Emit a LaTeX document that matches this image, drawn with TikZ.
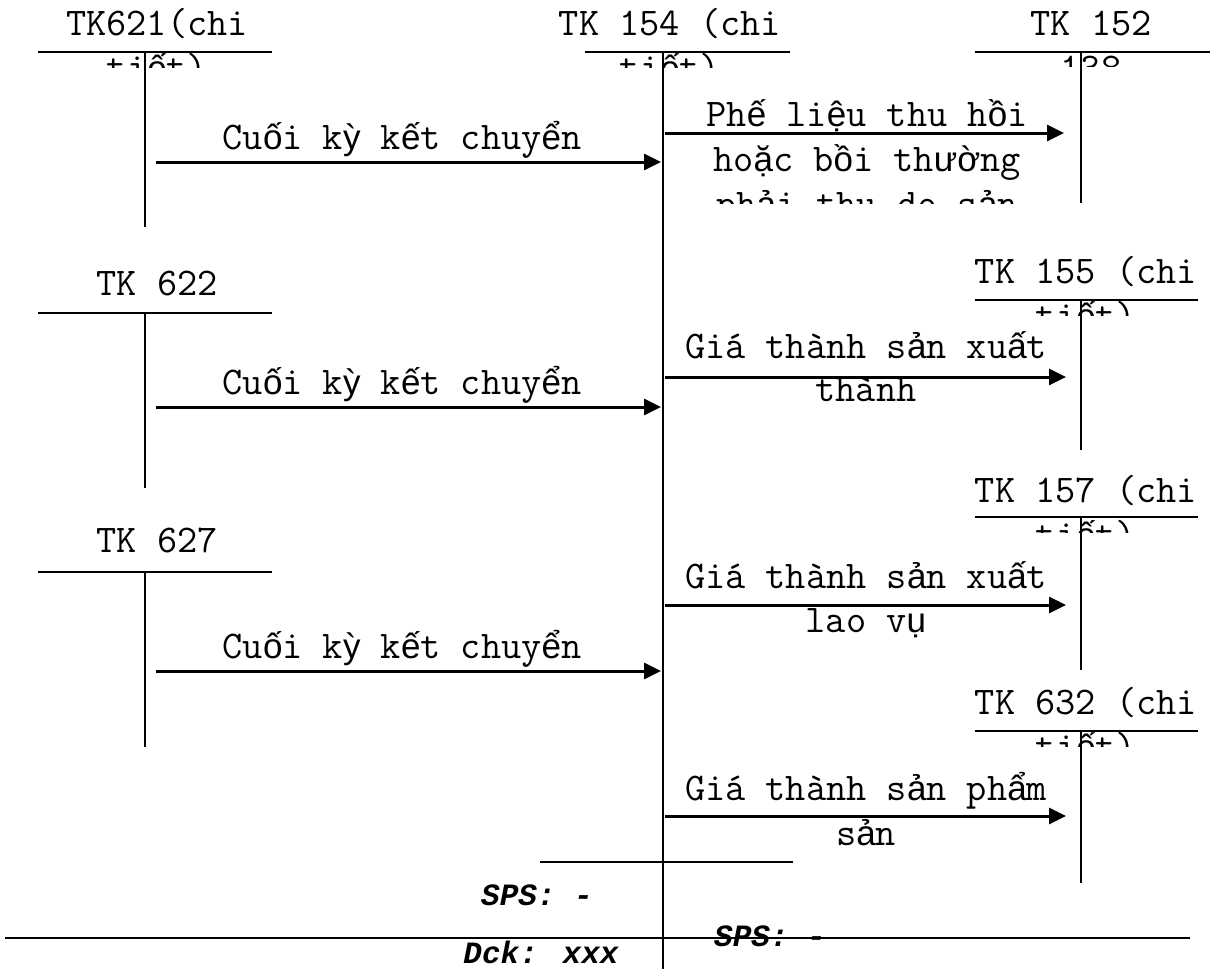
\documentclass[tikz,border=0pt]{standalone}
\usepackage{fontspec}
\newfontfamily\vnfont{Liberation Sans}
\newfontfamily\totfont{Liberation Mono}
\newcommand\vs[1]{{\fontsize{35}{45}\selectfont\vnfont #1}}
\usetikzlibrary{arrows.meta}
\begin{document}
\begin{tikzpicture}[x=1pt,y=-1pt,
  lbl/.style={anchor=base, inner sep=0pt, font=\fontsize{39.2}{45}\selectfont\ttfamily},
  cut/.style={anchor=base, inner sep=0pt, text depth=0pt, font=\fontsize{39.2}{45}\selectfont\ttfamily},
  tot/.style={anchor=base, inner sep=0pt, font=\fontsize{31}{40}\selectfont\totfont\bfseries\itshape},
  tline/.style={line width=2pt},
  flow/.style={line width=3pt, -{Triangle[length=17pt,width=16pt]}},
]
\useasboundingbox (0,0) rectangle (1213,969);

% ---------- Left T-accounts ----------
\node[lbl] (t621) at (157,35) {TK621(chi};
\begin{scope}\clip (38,52) rectangle (272,67);
\node[cut] (t621b) at (157,80) {ti\vs{ế}t)};
\end{scope}
\coordinate (h621l) at (38,52); \coordinate (h621r) at (272,52);
\coordinate (v621t) at (145,52); \coordinate (v621b) at (145,227);
\draw[tline] (h621l) -- (h621r);
\draw[tline] (v621t) -- (v621b);

\node[lbl] (t622) at (157,295) {TK 622};
\coordinate (h622l) at (38,313); \coordinate (h622r) at (272,313);
\coordinate (v622t) at (145,313); \coordinate (v622b) at (145,488);
\draw[tline] (h622l) -- (h622r);
\draw[tline] (v622t) -- (v622b);

\node[lbl] (t627) at (157,552) {TK 627};
\coordinate (h627l) at (38,572); \coordinate (h627r) at (272,572);
\coordinate (v627t) at (145,572); \coordinate (v627b) at (145,747);
\draw[tline] (h627l) -- (h627r);
\draw[tline] (v627t) -- (v627b);

% ---------- Central TK 154 ----------
\node[lbl] (t154) at (670,35) {TK 154 (chi};
\begin{scope}\clip (585,52) rectangle (790,67);
\node[cut] (t154b) at (670,80) {ti\vs{ế}t)};
\end{scope}
\coordinate (h154l) at (585,52); \coordinate (h154r) at (790,52);
\coordinate (v154t) at (663,52); \coordinate (v154b) at (663,969);
\draw[tline] (h154l) -- (h154r);
\draw[tline] (v154t) -- (v154b);

% ---------- Right T-accounts ----------
\node[lbl] (t152) at (1091,35) {TK 152};
\begin{scope}\clip (975,52) rectangle (1213,66);
\node[cut] (t152b) at (1091,80) {138};
\end{scope}
\coordinate (h152l) at (975,52); \coordinate (h152r) at (1210,52);
\coordinate (v152t) at (1081,52); \coordinate (v152b) at (1081,203);
\draw[tline] (h152l) -- (h152r);
\draw[tline] (v152t) -- (v152b);

\node[lbl] (t155) at (1086,283) {TK 155 (chi};
\begin{scope}\clip (975,300) rectangle (1213,315);
\node[cut] (t155b) at (1086,328) {ti\vs{ế}t)};
\end{scope}
\coordinate (h155l) at (975,300); \coordinate (h155r) at (1198,300);
\coordinate (v155t) at (1081,300); \coordinate (v155b) at (1081,450);
\draw[tline] (h155l) -- (h155r);
\draw[tline] (v155t) -- (v155b);

\node[lbl] (t157) at (1086,502) {TK 157 (chi};
\begin{scope}\clip (975,517) rectangle (1213,532);
\node[cut] (t157b) at (1086,547) {ti\vs{ế}t)};
\end{scope}
\coordinate (h157l) at (975,517); \coordinate (h157r) at (1198,517);
\coordinate (v157t) at (1081,517); \coordinate (v157b) at (1081,670);
\draw[tline] (h157l) -- (h157r);
\draw[tline] (v157t) -- (v157b);

\node[lbl] (t632) at (1086,714) {TK 632 (chi};
\begin{scope}\clip (975,731) rectangle (1213,746);
\node[cut] (t632b) at (1086,759) {ti\vs{ế}t)};
\end{scope}
\coordinate (h632l) at (975,731); \coordinate (h632r) at (1198,731);
\coordinate (v632t) at (1081,731); \coordinate (v632b) at (1081,883);
\draw[tline] (h632l) -- (h632r);
\draw[tline] (v632t) -- (v632b);

% ---------- Left flows ----------
\coordinate (a1s) at (156,162); \coordinate (a1e) at (661,162);
\draw[flow] (a1s) -- (a1e);
\node[lbl] (l1) at (402,149) {Cu\vs{ố}i k\vs{ỳ} k\vs{ế}t chuy\vs{ể}n};

\coordinate (a2s) at (156,407); \coordinate (a2e) at (661,407);
\draw[flow] (a2s) -- (a2e);
\node[lbl] (l2) at (402,394) {Cu\vs{ố}i k\vs{ỳ} k\vs{ế}t chuy\vs{ể}n};

\coordinate (a3s) at (156,671); \coordinate (a3e) at (661,671);
\draw[flow] (a3s) -- (a3e);
\node[lbl] (l3) at (402,658) {Cu\vs{ố}i k\vs{ỳ} k\vs{ế}t chuy\vs{ể}n};

% ---------- Right flows ----------
\coordinate (b1s) at (665,133); \coordinate (b1e) at (1064,133);
\draw[flow] (b1s) -- (b1e);
\node[lbl] (r1a) at (867,126) {Ph\vs{ế} li\vs{ệ}u thu h\vs{ồ}i};
\node[lbl] (r1b) at (867,171) {ho\vs{ặ}c b\vs{ồ}i th\vs{ườ}ng};
\begin{scope}\clip (680,180) rectangle (1060,203);
\node[cut] (r1c) at (867,216) {ph\vs{ả}i thu do s\vs{ả}n};
\end{scope}

\coordinate (b2s) at (665,377); \coordinate (b2e) at (1066,377);
\draw[flow] (b2s) -- (b2e);
\node[lbl] (r2a) at (866,358) {Giá thành s\vs{ả}n xu\vs{ấ}t};
\node[lbl] (r2b) at (866,401) {thành};

\coordinate (b3s) at (665,605); \coordinate (b3e) at (1066,605);
\draw[flow] (b3s) -- (b3e);
\node[lbl] (r3a) at (866,588) {Giá thành s\vs{ả}n xu\vs{ấ}t};
\node[lbl] (r3b) at (866,632) {lao v\vs{ụ}};

\coordinate (b4s) at (665,816); \coordinate (b4e) at (1066,816);
\draw[flow] (b4s) -- (b4e);
\node[lbl] (r4a) at (866,800) {Giá thành s\vs{ả}n ph\vs{ẩ}m};
\node[lbl] (r4b) at (866,845) {s\vs{ả}n};

% ---------- Totals ----------
\coordinate (s1l) at (540,862); \coordinate (s1r) at (793,862);
\draw[tline] (s1l) -- (s1r);
\node[tot] (sps1) at (537,905) {SPS: -};
\node[tot] (dck) at (541,963) {Dck: xxx};
\node[tot] (sps2) at (770,946) {SPS: -};
\coordinate (s2l) at (5,938); \coordinate (s2r) at (1190,938);
\draw[tline] (s2l) -- (s2r);
\end{tikzpicture}
\end{document}
